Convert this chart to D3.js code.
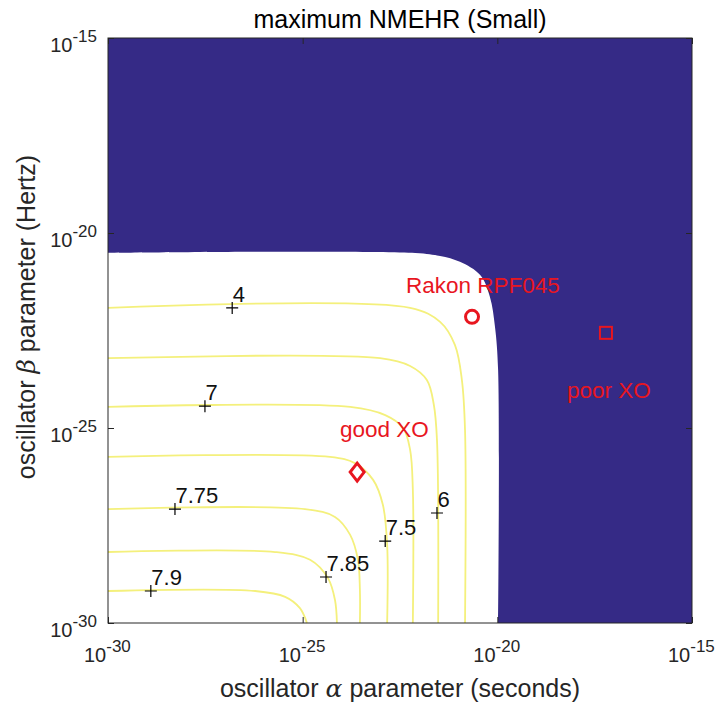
<!DOCTYPE html>
<html>
<head>
<meta charset="utf-8">
<script src="https://cdn.jsdelivr.net/npm/d3@7"></script>
<style>
  body { margin: 0; background: #fff; }
  text { font-family: "Liberation Sans", Arial, sans-serif; fill: #262626; }
</style>
</head>
<body>
<div id="chart"></div>
<script>
// all positions below are log10 of alpha (seconds) / beta (Hertz)
var tickExps = [-30, -25, -20, -15];

// edge of the region where the NMEHR is defined (white)
var regionAlpha = [-30, -22.11, -21.47, -20.96, -20.44, -20.19, -20.06, -19.98, -19.98];
var regionBeta  = [-20.51, -20.51, -20.59, -20.74, -21.08, -21.64, -22.41, -23.51, -30];

// contour levels and their polylines
var levels = [4, 6, 7, 7.5, 7.75, 7.85, 7.9];
var contourAlpha = [
    [-30, -22.24, -21.47, -21.09, -20.91, -20.83, -20.83],
    [-30, -23.01, -22.24, -21.81, -21.63, -21.55, -21.52],
    [-30, -23.78, -22.88, -22.42, -22.24, -22.17, -22.17],
    [-30, -24.30, -23.66, -23.19, -22.94, -22.83, -22.83],
    [-30, -24.94, -24.17, -23.78, -23.58, -23.53, -23.53],
    [-30, -25.71, -24.81, -24.35, -24.17, -24.12],
    [-30, -26.22, -25.45, -25.07, -24.89]
];
var contourBeta = [
    [-21.92, -21.92, -22.28, -22.87, -23.77, -25.05, -30],
    [-23.21, -23.21, -23.41, -23.77, -24.41, -25.31, -30],
    [-24.46, -24.46, -24.67, -25.00, -25.56, -26.59, -30],
    [-25.74, -25.74, -25.90, -26.33, -26.97, -28.00, -30],
    [-27.08, -27.08, -27.28, -27.74, -28.38, -29.15, -30],
    [-28.18, -28.18, -28.38, -28.85, -29.41, -30],
    [-29.18, -29.18, -29.33, -29.62, -30]
];

// contour label positions
var labelText  = ["4", "7", "7.75", "7.9", "7.85", "7.5", "6"];
var labelAlpha = [-26.81, -27.51, -28.28, -28.90, -24.40, -22.88, -21.55];
var labelBeta  = [-21.92, -24.44, -27.08, -29.18, -28.82, -27.90, -27.18];

// oscillators
var xoNames = ["Rakon RPF045", "good XO", "poor XO"];
var xoAlpha = [-20.65, -23.60, -17.21];
var xoBeta  = [-22.15, -26.13, -22.56];
var xoShape = ["circle", "diamond", "square"];

var svgWidth = 721;
var svgHeight = 706;
var margin = { top: 38, left: 108, right: 29, bottom: 83 };
var width = svgWidth - margin.left - margin.right;
var height = svgHeight - margin.top - margin.bottom;

var navy = "#352a86";
var red = "#e8161f";

var svg = d3.select("#chart")
    .append("svg")
    .attr("width", svgWidth)
    .attr("height", svgHeight);

var chartGroup = svg.append("g")
    .attr("transform", `translate(${margin.left}, ${margin.top})`);

var x = d3.scaleLog().domain([1e-30, 1e-15]).range([0, width]);
var y = d3.scaleLog().domain([1e-30, 1e-15]).range([height, 0]);

var px = e => x(Math.pow(10, e));
var py = e => y(Math.pow(10, e));

// background: undefined region
chartGroup.append("rect")
    .attr("width", width)
    .attr("height", height)
    .attr("fill", navy);

var smooth = d3.line()
    .x(d => px(d[0]))
    .y(d => py(d[1]))
    .curve(d3.curveCatmullRom.alpha(0.5));

var regionPts = regionAlpha.map((a, i) => [a, regionBeta[i]]);
chartGroup.append("path")
    .attr("d", smooth(regionPts) + `L${px(-30)},${py(-30)}Z`)
    .attr("fill", "#ffffff");

// contours
levels.forEach(function(lv, k) {
    var pts = contourAlpha[k].map((a, i) => [a, contourBeta[k][i]]);
    chartGroup.append("path")
        .attr("d", smooth(pts))
        .attr("fill", "none")
        .attr("stroke", "#f4f07c")
        .attr("stroke-width", 1.8);
});

// contour labels
labelText.forEach(function(t, i) {
    var cx = px(labelAlpha[i]), cy = py(labelBeta[i]);
    chartGroup.append("path")
        .attr("d", `M${cx - 6},${cy}H${cx + 6}M${cx},${cy - 6}V${cy + 6}`)
        .attr("stroke", "#000")
        .attr("stroke-width", 1.2);
    chartGroup.append("text")
        .attr("x", cx + 0.5)
        .attr("y", cy - 6)
        .attr("font-size", 22)
        .style("fill", "#111")
        .text(t);
});

// oscillator markers
xoNames.forEach(function(n, i) {
    var cx = px(xoAlpha[i]), cy = py(xoBeta[i]);
    if (xoShape[i] == "circle") {
        chartGroup.append("circle")
            .attr("cx", cx).attr("cy", cy).attr("r", 6.5)
            .attr("fill", "none").attr("stroke", red).attr("stroke-width", 3);
    } else if (xoShape[i] == "diamond") {
        chartGroup.append("path")
            .attr("d", `M${cx},${cy - 9}L${cx + 7},${cy}L${cx},${cy + 9}L${cx - 7},${cy}Z`)
            .attr("fill", "none").attr("stroke", red).attr("stroke-width", 3);
    } else {
        chartGroup.append("rect")
            .attr("x", cx - 6).attr("y", cy - 6).attr("width", 12).attr("height", 12)
            .attr("fill", "none").attr("stroke", red).attr("stroke-width", 2);
    }
});

// oscillator names
var nameX = [298, 232, 459];
var nameY = [255, 399, 360];
xoNames.forEach(function(n, i) {
    chartGroup.append("text")
        .attr("x", nameX[i])
        .attr("y", nameY[i])
        .attr("font-size", 22.5)
        .style("fill", red)
        .text(n);
});

// axes, ticks point inward
var tickVals = tickExps.map(e => Math.pow(10, e));

chartGroup.append("g")
    .attr("transform", `translate(0, ${height})`)
    .call(d3.axisBottom(x).tickValues(tickVals).tickSizeInner(-6).tickSizeOuter(0).tickFormat(""));
chartGroup.append("g")
    .call(d3.axisTop(x).tickValues(tickVals).tickSizeInner(-6).tickSizeOuter(0).tickFormat(""));
chartGroup.append("g")
    .call(d3.axisLeft(y).tickValues(tickVals).tickSizeInner(-6).tickSizeOuter(0).tickFormat(""));
chartGroup.append("g")
    .attr("transform", `translate(${width}, 0)`)
    .call(d3.axisRight(y).tickValues(tickVals).tickSizeInner(-6).tickSizeOuter(0).tickFormat(""));

chartGroup.selectAll(".domain").remove();
chartGroup.selectAll(".tick line").attr("stroke", "#262626");

chartGroup.append("rect")
    .attr("width", width)
    .attr("height", height)
    .attr("fill", "none")
    .attr("stroke", "#262626")
    .attr("stroke-width", 1);

// tick labels like 10^-25
function powLabel(sel, e) {
    sel.append("tspan").attr("font-size", 20).text("10");
    sel.append("tspan").attr("font-size", 17).attr("dy", -10).text(e);
}

tickExps.forEach(function(e) {
    var t = chartGroup.append("text")
        .attr("x", px(e) - 24)
        .attr("y", height + 39);
    powLabel(t, e);

    var t2 = chartGroup.append("text")
        .attr("x", -11)
        .attr("y", py(e) + 14)
        .attr("text-anchor", "end");
    powLabel(t2, e);
});

// title and axis labels
chartGroup.append("text")
    .attr("x", width / 2)
    .attr("y", -10)
    .attr("font-size", 25)
    .attr("text-anchor", "middle")
    .style("fill", "#000")
    .text("maximum NMEHR (Small)");

var xl = chartGroup.append("text")
    .attr("x", width / 2)
    .attr("y", height + 74)
    .attr("font-size", 25)
    .attr("text-anchor", "middle");
xl.append("tspan").text("oscillator ");
xl.append("tspan").attr("font-style", "italic").attr("font-family", "DejaVu Serif").text("α");
xl.append("tspan").text(" parameter (seconds)");

var yl = chartGroup.append("text")
    .attr("transform", `translate(${-73}, ${279}) rotate(-90)`)
    .attr("font-size", 25)
    .attr("text-anchor", "middle");
yl.append("tspan").text("oscillator ");
yl.append("tspan").attr("font-style", "italic").attr("font-family", "DejaVu Serif").text("β");
yl.append("tspan").text(" parameter (Hertz)");
</script>
</body>
</html>
